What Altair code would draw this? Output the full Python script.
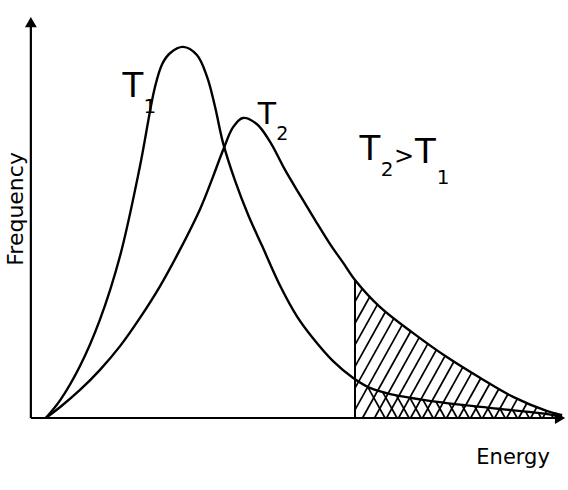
import numpy as np
import pandas as pd
import altair as alt

# Distribution curves (energy, frequency) in arbitrary units
t1_energy = [0.24, 0.51, 0.88, 1.25, 1.63, 2.00, 2.28, 2.42, 2.57, 2.81,
             3.07, 3.26, 3.41, 3.56, 3.78, 4.03, 4.29, 4.63, 4.94, 5.24,
             5.62, 5.99, 6.31, 6.69, 7.62, 8.56, 9.49, 9.87]
t1_freq = [0.00, 0.44, 1.28, 2.41, 3.99, 6.18, 8.13, 8.72, 8.99, 9.14,
           8.94, 8.40, 7.66, 6.77, 5.86, 5.00, 4.24, 3.25, 2.51, 1.97,
           1.40, 0.99, 0.74, 0.59, 0.39, 0.25, 0.12, 0.05]

t2_energy = [0.24, 0.51, 0.88, 1.25, 1.63, 2.00, 2.38, 2.75, 3.13, 3.37,
             3.56, 3.75, 3.93, 4.19, 4.44, 4.72, 5.00, 5.28, 5.56, 5.81,
             6.03, 6.50, 7.12, 7.75, 8.37, 8.99, 9.63, 9.91]
t2_freq = [0.00, 0.27, 0.69, 1.18, 1.77, 2.46, 3.25, 4.14, 5.15, 5.94,
           6.60, 7.17, 7.39, 7.24, 6.80, 6.11, 5.49, 4.88, 4.29, 3.82,
           3.40, 2.73, 2.09, 1.50, 0.99, 0.52, 0.17, 0.07]

# Activation energy threshold
threshold_energy = 6.03

curves = pd.DataFrame({
    "energy": t1_energy + t2_energy,
    "freq": t1_freq + t2_freq,
    "curve": ["T1"] * len(t1_energy) + ["T2"] * len(t2_energy),
})

# ---- hatching of the area beyond the threshold ----
slope = 2.37      # rise per unit energy of a hatch stroke
spacing = 0.225   # distance between strokes along the energy axis
e_end = t2_energy[-1]
grid = np.linspace(threshold_energy, e_end, 3000)
t2_grid = np.interp(grid, t2_energy, t2_freq)
t1_grid = np.interp(grid, t1_energy, t1_freq)

segs = []
# "/" strokes under the T2 curve
top_at_thr = np.interp(threshold_energy, t2_energy, t2_freq)
e0 = threshold_energy - top_at_thr / slope
while e0 < e_end:
    xs0 = max(e0, threshold_energy)
    ys0 = slope * (xs0 - e0)
    line = slope * (grid - e0)
    ok = (grid >= xs0) & (line >= t2_grid)
    if ok.any():
        i = np.argmax(ok)
        if grid[i] > xs0:
            segs.append((xs0, ys0, grid[i], t2_grid[i]))
    e0 += spacing

# "\" strokes under the T1 curve
e1 = threshold_energy + spacing * 0.5
while e1 < e_end:
    line = slope * (e1 - grid)
    ok = (grid <= e1) & (line >= t1_grid)
    if ok.any():
        i = np.where(ok)[0][-1]
        segs.append((grid[i], t1_grid[i], e1, 0.0))
    e1 += spacing

hatch = pd.DataFrame(segs, columns=["x", "y", "x2", "y2"])

xs = alt.Scale(domain=[0, 10], nice=False, zero=False)
ys = alt.Scale(domain=[0, 10], nice=False, zero=False)


def X(f):
    return alt.X(f, scale=xs, axis=None)


def Y(f):
    return alt.Y(f, scale=ys, axis=None)


lines = alt.Chart(curves).mark_line(
    color="black", strokeWidth=2.4, interpolate="catmull-rom"
).encode(x=X("energy:Q"), y=Y("freq:Q"), detail="curve:N")

hatch_rules = alt.Chart(hatch).mark_rule(color="black", strokeWidth=1.7).encode(
    x=X("x:Q"), y=Y("y:Q"), x2="x2:Q", y2="y2:Q"
)

thr = pd.DataFrame({"x": [threshold_energy], "y": [0.0],
                    "y2": [float(np.interp(threshold_energy, t2_energy, t2_freq))]})
thr_rule = alt.Chart(thr).mark_rule(color="black", strokeWidth=2).encode(
    x=X("x:Q"), y=Y("y:Q"), y2="y2:Q"
)

# axes with arrowheads
axes = pd.DataFrame({"x": [-0.04, -0.04], "y": [0.0, 0.0],
                     "x2": [-0.04, 9.9], "y2": [9.8, 0.0]})
axis_rules = alt.Chart(axes).mark_rule(color="black", strokeWidth=2.2).encode(
    x=X("x:Q"), y=Y("y:Q"), x2="x2:Q", y2="y2:Q"
)
heads = pd.DataFrame({"x": [-0.04, 9.87], "y": [9.75, 0.0],
                      "shape": ["triangle-up", "triangle-right"]})
arrowheads = alt.Chart(heads).mark_point(
    filled=True, color="black", size=140, opacity=1
).encode(x=X("x:Q"), y=Y("y:Q"), shape=alt.Shape("shape:N", scale=None))

# curve labels: a capital T followed by its lowered subscript
font = "DejaVu Sans"
labels = pd.DataFrame({
    "x": [1.87, 2.19, 4.38, 4.67, 6.31, 6.63, 6.95, 7.35, 7.68, 8.99],
    "y": [8.15, 7.66, 7.46, 7.00, 6.60, 6.10, 6.43, 6.52, 5.91, -0.98],
    "text": ["T", "1", "T", "2", "T", "2", ">", "T", "1", "Energy"],
    "fs": [34, 20, 30, 19, 34, 20, 24, 34, 20, 21],
})
label_marks = alt.Chart(labels).mark_text(
    font=font, color="black", align="center", baseline="middle"
).encode(x=X("x:Q"), y=Y("y:Q"), text="text:N",
         size=alt.Size("fs:Q", scale=None))

ylab = alt.Chart(pd.DataFrame({"x": [-0.31], "y": [5.15], "t": ["Frequency"]})).mark_text(
    font=font, fontSize=22, angle=270, color="black", align="center", baseline="middle"
).encode(x=X("x:Q"), y=Y("y:Q"), text="t:N")

chart = alt.layer(
    hatch_rules, thr_rule, lines, axis_rules, arrowheads, label_marks, ylab
).properties(
    width=534, height=406,
    autosize=alt.AutoSizeParams(type="none"),
    padding={"left": 33, "top": 12, "right": 1, "bottom": 72},
    background="white",
).configure_view(stroke=None)

chart.save("out.html", embed_options={"renderer": "svg", "actions": False})
